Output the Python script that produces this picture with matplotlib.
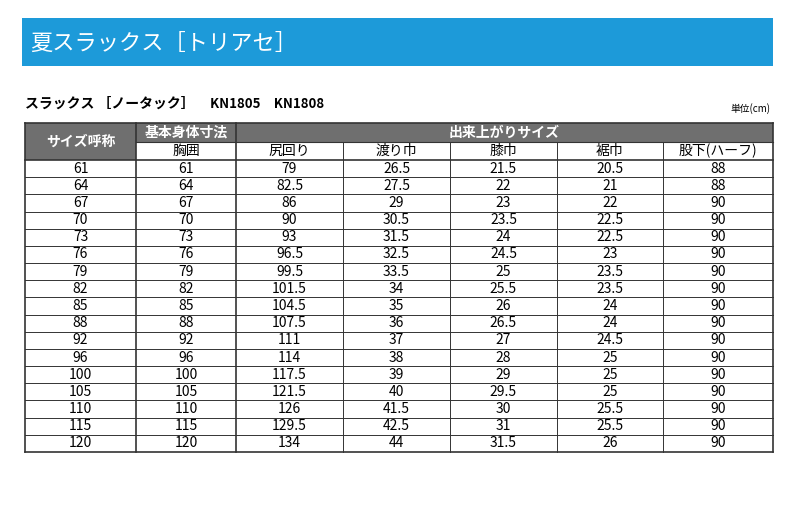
import matplotlib
matplotlib.use("Agg")
import matplotlib.pyplot as plt
from matplotlib.patches import Rectangle

plt.rcParams["font.family"] = "Noto Sans CJK JP"

title = "夏スラックス［トリアセ］"
subtitle = "スラックス ［ノータック］"
codes = "KN1805　KN1808"
unit = "単位(cm)"
group_headers = ["基本身体寸法", "出来上がりサイズ"]
col_headers = ["サイズ呼称", "胸囲", "尻回り", "渡り巾", "膝巾", "裾巾", "股下(ハーフ)"]
sizes = ["61", "64", "67", "70", "73", "76", "79", "82", "85", "88", "92", "96", "100", "105", "110", "115", "120"]
chest = ["61", "64", "67", "70", "73", "76", "79", "82", "85", "88", "92", "96", "100", "105", "110", "115", "120"]
hip = ["79", "82.5", "86", "90", "93", "96.5", "99.5", "101.5", "104.5", "107.5", "111", "114", "117.5", "121.5", "126", "129.5", "134"]
thigh = ["26.5", "27.5", "29", "30.5", "31.5", "32.5", "33.5", "34", "35", "36", "37", "38", "39", "40", "41.5", "42.5", "44"]
knee = ["21.5", "22", "23", "23.5", "24", "24.5", "25", "25.5", "26", "26.5", "27", "28", "29", "29.5", "30", "31", "31.5"]
hem = ["20.5", "21", "22", "22.5", "22.5", "23", "23.5", "23.5", "24", "24", "24.5", "25", "25", "25", "25.5", "25.5", "26"]
inseam = ["88", "88", "90", "90", "90", "90", "90", "90", "90", "90", "90", "90", "90", "90", "90", "90", "90"]
columns = [sizes, chest, hip, thigh, knee, hem, inseam]

W, H = 799, 515
fig = plt.figure(figsize=(W / 100, H / 100), dpi=100)
ax = fig.add_axes([0, 0, 1, 1])
ax.set_xlim(0, W); ax.set_ylim(H, 0); ax.axis("off")

# banner
ax.add_patch(Rectangle((22, 18), 751, 48, color="#1d9ad9", lw=0))
ax.text(30, 43, title, color="white", fontsize=16, va="center", ha="left")
ax.text(25, 104, subtitle, fontsize=10, va="center", fontweight="bold")
ax.text(210, 104, codes, fontsize=9.5, va="center", fontweight="bold")
ax.text(770, 109, unit, fontsize=7, va="center", ha="right")

xs = [25, 136, 236, 343, 450, 557, 663, 773]
y0, h1, h2 = 123, 19, 18
ytop_data = y0 + h1 + h2
rh = (452 - ytop_data) / len(sizes)
dark = "#6f6f6f"

ax.add_patch(Rectangle((xs[0], y0), xs[1] - xs[0], h1 + h2, color=dark, lw=0))
ax.add_patch(Rectangle((xs[1], y0), xs[-1] - xs[1], h1, color=dark, lw=0))
ax.text((xs[0] + xs[1]) / 2, y0 + (h1 + h2) / 2, col_headers[0], color="white", fontsize=10, ha="center", va="center", fontweight="bold")
ax.text((xs[1] + xs[2]) / 2, y0 + h1 / 2, group_headers[0], color="white", fontsize=10, ha="center", va="center", fontweight="bold")
ax.text((xs[2] + xs[-1]) / 2, y0 + h1 / 2, group_headers[1], color="white", fontsize=10, ha="center", va="center", fontweight="bold")
for i in range(1, 7):
    ax.text((xs[i] + xs[i + 1]) / 2, y0 + h1 + h2 / 2, col_headers[i], fontsize=10, ha="center", va="center")

lc = "#333333"
ax.plot([xs[0], xs[-1]], [y0, y0], color=lc, lw=1.2)
ax.plot([xs[1], xs[-1]], [y0 + h1, y0 + h1], color=lc, lw=0.8)
for r in range(len(sizes) + 1):
    y = ytop_data + r * rh
    ax.plot([xs[0], xs[-1]], [y, y], color=lc, lw=1.2 if r in (0, len(sizes)) else 0.7)
for i, x in enumerate(xs):
    lw = 1.2 if i in (0, 1, 2, 7) else 0.7
    top = y0 if i in (0, 1, 2, 7) else y0 + h1
    ax.plot([x, x], [top, 452], color=lc, lw=lw)

for c, col in enumerate(columns):
    for r, v in enumerate(col):
        ax.text((xs[c] + xs[c + 1]) / 2, ytop_data + (r + 0.5) * rh, v, fontsize=10, ha="center", va="center")

fig.savefig("out.png", dpi=100)
